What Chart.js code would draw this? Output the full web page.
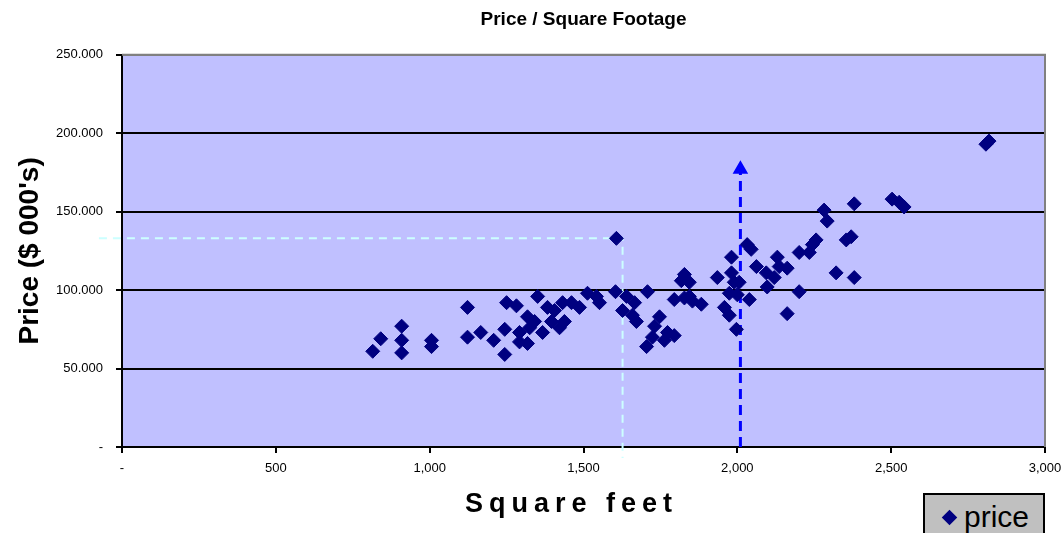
<!DOCTYPE html>
<html>
<head>
<meta charset="utf-8">
<script src="https://cdn.jsdelivr.net/npm/chart.js@4"></script>
<style>
  body { margin: 0; background: #fff; }
  #wrap { position: relative; width: 1063px; height: 533px; overflow: hidden; }
  #legend {
    position: absolute; left: 923px; top: 493px; width: 118px; height: 44px;
    background: #c0c0c0; border: 2px solid #000;
    font-family: Arial, "Liberation Sans", sans-serif; font-size: 30px; color: #000;
    line-height: 44px; box-sizing: content-box;
  }
  #legend .mark {
    display: inline-block; width: 11px; height: 11px; background: #000080;
    transform: rotate(45deg); margin: 0 9px 4px 19px; vertical-align: middle;
  }
</style>
</head>
<body>
<div id="wrap">
  <canvas id="scatterChart" width="1063" height="533"></canvas>
  <div id="legend"><span class="mark"></span>price</div>
</div>
<script>
// sqft / price ($000's)
const sqft = [
  815, 841, 909, 909, 909, 1006, 1006, 1123, 1123, 1166, 1208, 1244, 1244, 1250,
  1282, 1292, 1292, 1318, 1318, 1325, 1351, 1341, 1367, 1383, 1396, 1406, 1422,
  1438, 1432, 1461, 1487, 1513, 1542, 1552, 1604, 1607, 1640, 1666, 1627, 1659,
  1672, 1708, 1747, 1731, 1773, 1795, 1724, 1705, 1763, 1828, 1818, 1844, 1795,
  1828, 1844, 1854, 1883, 1935, 1958, 1974, 1981, 1981, 1990, 1974, 1997, 2000,
  2032, 2045, 2006, 2039, 2062, 2094, 2130, 2136, 2162, 2120, 2097, 2201, 2162,
  2201, 2234, 2256, 2244, 2282, 2292, 2354, 2370, 2321, 2380, 2380, 2503, 2526,
  2542, 2808, 2818
];
const price = [
  61, 69, 77, 68, 60, 68, 64, 89, 70, 73, 68, 75, 59, 92,
  90, 73, 67, 66, 83, 76, 96, 80, 73, 89, 80, 87, 76,
  80, 92, 92, 89, 98, 96, 92, 99, 133, 96, 92, 87, 84,
  80, 99, 83, 77, 73, 71, 70, 64, 68, 110, 106, 105, 94,
  95, 96, 93, 91, 108, 89, 84, 121, 111, 105, 98, 75, 97,
  129, 126, 105, 94, 115, 111, 121, 115, 114, 108, 102, 99, 85,
  124, 124, 132, 129, 151, 144, 132, 134, 111, 108, 155, 158, 156,
  153, 193, 195
];

// guide lines drawn on the chart
const cyanGuideX = [-75, 1627, 1627];
const cyanGuideY = [133, 133, -7];
const blueArrowX = [2010, 2010];
const blueArrowY = [0, 177];

const xTicks = [0, 500, 1000, 1500, 2000, 2500, 3000];
const yTicks = [0, 50, 100, 150, 200, 250];

const xTitle = 'Square feet';
const FONT = 'Arial, "Liberation Sans", sans-serif';

const toPoints = (xs, ys) => xs.map((x, i) => ({ x: x, y: ys[i] }));

// plot background, gray top/right frame and the spaced x title
const plotFrame = {
  id: 'plotFrame',
  beforeDraw(chart) {
    const { ctx, chartArea: a } = chart;
    ctx.save();
    ctx.fillStyle = '#c0c0ff';
    ctx.fillRect(a.left, a.top, a.right - a.left, a.bottom - a.top);
    ctx.restore();
  },
  afterDatasetsDraw(chart) {
    const { ctx, chartArea: a } = chart;
    ctx.save();
    ctx.strokeStyle = '#808080';
    ctx.lineWidth = 2;
    ctx.beginPath();
    ctx.moveTo(a.left, a.top);
    ctx.lineTo(a.right, a.top);
    ctx.lineTo(a.right, a.bottom);
    ctx.stroke();
    ctx.restore();
  },
  afterDraw(chart) {
    const { ctx, chartArea: a } = chart;
    ctx.save();
    ctx.font = 'bold 27px ' + FONT;
    ctx.letterSpacing = '6px';
    ctx.fillStyle = '#000';
    ctx.textBaseline = 'middle';
    ctx.textAlign = 'left';
    const w = ctx.measureText(xTitle).width - 6;
    ctx.fillText(xTitle, (a.left + a.right) / 2 - 15 - w / 2, 505);
    ctx.restore();
  }
};

new Chart(document.getElementById('scatterChart'), {
  type: 'scatter',
  data: {
    datasets: [
      {
        label: 'guide',
        data: toPoints(cyanGuideX, cyanGuideY),
        showLine: true,
        borderColor: '#ccffff',
        borderWidth: 2,
        borderDash: [8, 6],
        pointRadius: 0,
        clip: false,
        order: 3
      },
      {
        label: 'arrow',
        data: toPoints(blueArrowX, blueArrowY),
        showLine: true,
        borderColor: '#0000ff',
        borderWidth: 3,
        borderDash: [10, 6],
        pointStyle: 'triangle',
        pointRadius: [0, 6],
        pointBackgroundColor: '#0000ff',
        pointBorderColor: '#0000ff',
        order: 2
      },
      {
        label: 'price',
        data: toPoints(sqft, price),
        pointStyle: 'rectRot',
        pointRadius: 7,
        pointBackgroundColor: '#000080',
        pointBorderColor: '#000080',
        pointBorderWidth: 1,
        order: 1
      }
    ]
  },
  options: {
    responsive: false,
    animation: false,
    devicePixelRatio: 1,
    layout: { padding: { left: 0, right: 18, top: 0, bottom: 0 } },
    plugins: {
      legend: { display: false },
      tooltip: { enabled: false },
      title: {
        display: true,
        fullSize: false,
        text: 'Price / Square Footage',
        color: '#000',
        font: { family: FONT, size: 19, weight: 'bold' },
        padding: { top: 8, bottom: 24 }
      }
    },
    scales: {
      x: {
        type: 'linear',
        min: 0,
        max: 3000,
        afterFit: s => { s.height = 86; s.paddingRight = 0; s.paddingLeft = 0; },
        afterBuildTicks: s => { s.ticks = xTicks.map(v => ({ value: v })); },
        grid: { drawOnChartArea: false, drawTicks: true, tickLength: 6, color: '#000', lineWidth: 2 },
        border: { color: '#000', width: 2 },
        ticks: {
          color: '#000',
          padding: 8,
          maxRotation: 0,
          font: { family: FONT, size: 13 },
          callback: v => v === 0 ? '-' : v.toLocaleString('en-US')
        },
        title: { display: false, text: xTitle }
      },
      y: {
        min: 0,
        max: 250,
        afterFit: s => { s.width = 122; },
        afterBuildTicks: s => { s.ticks = yTicks.map(v => ({ value: v })); },
        grid: {
          color: c => c.tick && c.tick.value === 250 ? '#808080' : '#000',
          lineWidth: 2,
          tickLength: 6,
          tickColor: '#000'
        },
        border: { color: '#000', width: 2 },
        ticks: {
          color: '#000',
          padding: 13,
          font: { family: FONT, size: 13 },
          callback: v => v === 0 ? '-' : v.toFixed(3)
        },
        title: {
          display: true,
          text: "Price ($ 000's)",
          color: '#000',
          font: { family: FONT, size: 28, weight: 'bold' },
          padding: { top: 13, bottom: 0 }
        }
      }
    }
  },
  plugins: [plotFrame]
});
</script>
</body>
</html>
